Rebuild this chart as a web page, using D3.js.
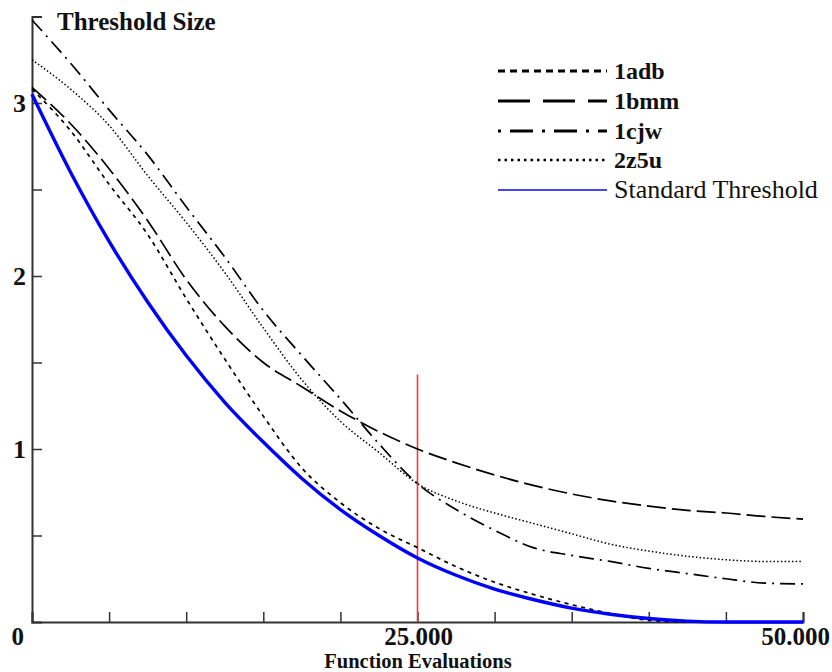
<!DOCTYPE html>
<html>
<head>
<meta charset="utf-8">
<script src="https://cdn.jsdelivr.net/npm/d3@7"></script>
<style>
  body { margin: 0; background: #fff; }
  svg { display: block; }
  text { font-family: "Liberation Serif", "Times New Roman", serif; fill: #111; }
</style>
</head>
<body>
<svg width="832" height="672"></svg>
<script>
// function evaluations (x) shared by all series
var evals = [0, 2500, 5000, 7500, 10000, 12500, 15000, 17500, 20000, 22500, 25000,
             27500, 30000, 32500, 35000, 37500, 40000, 42500, 45000, 47500, 50000];

// threshold size per protein
var adb1 = [3.08, 2.84, 2.53, 2.24, 1.87, 1.52, 1.19, 0.89, 0.69, 0.54, 0.43,
            0.32, 0.23, 0.16, 0.10, 0.05, 0.01, 0, 0, 0, 0];
var bmm1 = [3.09, 2.88, 2.62, 2.32, 1.98, 1.71, 1.50, 1.36, 1.22, 1.10, 1.00,
            0.92, 0.85, 0.79, 0.74, 0.70, 0.67, 0.645, 0.63, 0.61, 0.595];
var cjw1 = [3.48, 3.23, 2.96, 2.70, 2.40, 2.11, 1.80, 1.54, 1.29, 1.03, 0.80,
            0.65, 0.53, 0.43, 0.385, 0.35, 0.31, 0.28, 0.25, 0.225, 0.22];
var z5u2 = [3.25, 3.08, 2.87, 2.58, 2.31, 2.02, 1.70, 1.40, 1.16, 0.98, 0.80,
            0.70, 0.63, 0.57, 0.51, 0.45, 0.41, 0.38, 0.36, 0.35, 0.35];
var standard = [3.05, 2.60, 2.20, 1.85, 1.54, 1.27, 1.04, 0.83, 0.65, 0.50, 0.37,
                0.27, 0.19, 0.13, 0.08, 0.045, 0.02, 0.005, 0, 0, 0];

var names = ["1adb", "1bmm", "1cjw", "2z5u", "Standard Threshold"];

// axis ticks
var xTicks = [0, 5000, 10000, 15000, 20000, 25000, 30000, 35000, 40000, 45000, 50000];
var xLabels = [0, 25000, 50000];
var yTicks = [0.5, 1, 1.5, 2, 2.5, 3, 3.5];
var yLabels = [1, 2, 3];

// red marker
var markerX = 25000, markerTop = 1.43;

var svg = d3.select("svg");

var x = d3.scaleLinear().domain([0, 50000]).range([32, 803]);
var y = d3.scaleLinear().domain([0, 3.5]).range([622, 16.5]);

var fmt = d3.formatLocale({decimal: ",", thousands: ".", grouping: [3], currency: ["", ""]}).format(",");

// series styles
var styles = [
  {dash: "4,4.5",      width: 1.7, color: "#000", ldash: "7,5",       lwidth: 3},
  {dash: "19,6",       width: 1.7, color: "#000", ldash: "32,13",     lwidth: 3},
  {dash: "15,6,2,6",   width: 1.7, color: "#000", ldash: "3,9,23,9",  lwidth: 3},
  {dash: "1.5,2.2",    width: 1.5, color: "#000", ldash: "2.5,4",     lwidth: 2.6},
  {dash: null,         width: 3.4, color: "#0000ff", ldash: null,     lwidth: 2.2, lcolor: "#4848e8"}
];
var allSeries = [adb1, bmm1, cjw1, z5u2, standard];

// axes
var axisColor = "#333";
var gx = svg.append("g").attr("transform", "translate(0," + y(0) + ")");
gx.call(d3.axisBottom(x).tickValues(xTicks).tickSize(-10).tickFormat(""));
var gy = svg.append("g").attr("transform", "translate(" + x(0) + ",0)");
gy.call(d3.axisLeft(y).tickValues(yTicks).tickSize(-10).tickFormat(""));
svg.selectAll(".domain").attr("stroke", axisColor).attr("stroke-width", 2);
svg.selectAll(".tick line").attr("stroke", axisColor).attr("stroke-width", 1.5);

// red line at 25.000
svg.append("line")
  .attr("x1", x(markerX)).attr("x2", x(markerX))
  .attr("y1", y(markerTop)).attr("y2", y(0))
  .attr("stroke", "#ff3333").attr("stroke-width", 1.6);

// curves
var line = d3.line()
  .x(function(d, i) { return x(evals[i]); })
  .y(function(d) { return y(d); })
  .curve(d3.curveMonotoneX);

allSeries.forEach(function(s, i) {
  var st = styles[i];
  svg.append("path")
    .attr("d", line(s))
    .attr("fill", "none")
    .attr("stroke", st.color)
    .attr("stroke-width", st.width)
    .attr("stroke-dasharray", st.dash);
});

// tick labels (first and last pulled inside the picture)
svg.selectAll(".xl").data(xLabels).enter().append("text")
  .attr("x", function(d, i) {
    if (i === 0) return x(d) - 8;
    if (i === xLabels.length - 1) return 830;
    return x(d) + 1;
  })
  .attr("y", 645)
  .attr("text-anchor", function(d, i) { return i === 0 ? "end" : (i === xLabels.length - 1 ? "end" : "middle"); })
  .attr("font-size", 25).attr("font-weight", "bold")
  .text(function(d) { return fmt(d); });

svg.selectAll(".yl").data(yLabels).enter().append("text")
  .attr("x", 26).attr("y", function(d) { return y(d) + 9; })
  .attr("text-anchor", "end")
  .attr("font-size", 26).attr("font-weight", "bold")
  .text(function(d) { return d; });

// titles
svg.append("text").attr("x", 57).attr("y", 30)
  .attr("font-size", 25).attr("font-weight", "bold")
  .text("Threshold Size");
svg.append("text").attr("x", 418).attr("y", 668)
  .attr("text-anchor", "middle")
  .attr("font-size", 20.5).attr("font-weight", "bold")
  .text("Function Evaluations");

// legend
var legend = svg.append("g");
var rows = [71, 101, 131, 160, 190];
names.forEach(function(n, i) {
  var st = styles[i];
  legend.append("line")
    .attr("x1", 498).attr("x2", 607)
    .attr("y1", rows[i]).attr("y2", rows[i])
    .attr("stroke", st.lcolor || st.color)
    .attr("stroke-width", st.lwidth)
    .attr("stroke-dasharray", st.ldash);
  legend.append("text")
    .attr("x", 614).attr("y", rows[i] + 8)
    .attr("font-size", i < 4 ? 24 : 26)
    .attr("font-weight", i < 4 ? "bold" : "normal")
    .text(n);
});
</script>
</body>
</html>
